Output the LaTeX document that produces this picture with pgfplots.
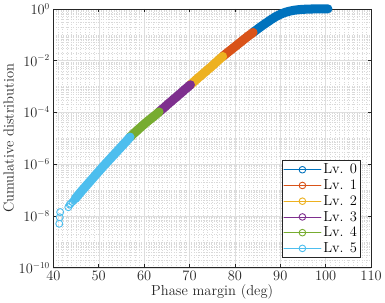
\documentclass[border=0pt]{standalone}
\usepackage{pgfplots}
\pgfplotsset{compat=1.18}
\definecolor{c0}{rgb}{0,0.447,0.741}
\definecolor{c1}{rgb}{0.85,0.325,0.098}
\definecolor{c2}{rgb}{0.929,0.694,0.125}
\definecolor{c3}{rgb}{0.494,0.184,0.556}
\definecolor{c4}{rgb}{0.466,0.674,0.188}
\definecolor{c5}{rgb}{0.301,0.745,0.933}
\definecolor{axgray}{rgb}{0.15,0.15,0.15}
\begin{document}
\begin{tikzpicture}
\begin{axis}[
  scale only axis,
  width=316bp, height=257.5bp,
  ymode=log,
  clip=false,
  xmin=40, xmax=110, ymin=1e-10, ymax=1,
  xtick={40,50,...,110},
  ytick={1e-10,1e-8,1e-6,1e-4,1e-2,1},
  minor x tick num=9,
  minor ytick={2e-10,3e-10,4e-10,5e-10,6e-10,7e-10,8e-10,9e-10,1e-9,2e-9,3e-9,4e-9,5e-9,6e-9,7e-9,8e-9,9e-9,
               2e-8,3e-8,4e-8,5e-8,6e-8,7e-8,8e-8,9e-8,1e-7,2e-7,3e-7,4e-7,5e-7,6e-7,7e-7,8e-7,9e-7,
               2e-6,3e-6,4e-6,5e-6,6e-6,7e-6,8e-6,9e-6,1e-5,2e-5,3e-5,4e-5,5e-5,6e-5,7e-5,8e-5,9e-5,
               2e-4,3e-4,4e-4,5e-4,6e-4,7e-4,8e-4,9e-4,1e-3,2e-3,3e-3,4e-3,5e-3,6e-3,7e-3,8e-3,9e-3,
               2e-2,3e-2,4e-2,5e-2,6e-2,7e-2,8e-2,9e-2,1e-1,2e-1,3e-1,4e-1,5e-1,6e-1,7e-1,8e-1,9e-1},
  grid=both,
  major grid style={line width=0.5bp, color=black!13},
  minor grid style={line width=0.5bp, color=black!15, dotted},
  tick align=inside,
  major tick length=3.5bp,
  minor tick length=0pt,
  axis line style={line width=0.6bp, color=axgray},
  every tick/.style={line width=0.6bp, color=axgray},
  font=\fontsize{14.5}{17}\selectfont,
  tick label style={font=\fontsize{13.5}{16}\selectfont, color=axgray},
  xlabel={Phase margin (deg)},
  ylabel={Cumulative distribution},
  label style={color=axgray},
  xlabel style={yshift=3bp},
  ylabel style={yshift=-2bp},
  legend cell align=left,
  legend style={at={(0.968,0.038)}, anchor=south east, draw=axgray, line width=0.6bp,
     fill=white, font=\fontsize{14.5}{17}\selectfont, inner sep=1.5bp, row sep=0.3bp},
  legend image code/.code={
     \draw[line width=0.6bp] (0bp,0bp) -- (37bp,0bp);
     \draw[line width=0.9bp, fill=none] (18.5bp,0bp) circle (3.3bp);
  },
  every axis plot/.append style={line width=9bp, line cap=round, line join=round},
]
\addplot[color=c0, no markers] coordinates {
 (84,0.123) (85,0.166) (86,0.224) (87,0.295) (88,0.389) (89,0.501) (90,0.617)
 (91,0.724) (92,0.813) (93,0.881) (94,0.929) (95,0.959) (96,0.977) (97,0.989)
 (98,0.995) (99,0.998) (100.5,1.0)
};
\addlegendentry{Lv. 0}
\addplot[color=c1, no markers] coordinates {
 (77.3,1.45e-2) (78,1.82e-2) (78.5,2.14e-2) (79,2.51e-2) (79.5,2.95e-2) (80,3.47e-2)
 (80.5,4.07e-2) (81,4.79e-2) (81.5,5.62e-2) (82,6.61e-2) (82.5,7.76e-2) (83,9.12e-2)
 (83.5,0.105) (84,0.123)
};
\addlegendentry{Lv. 1}
\addplot[color=c2, no markers] coordinates {
 (70.2,1.17e-3) (71,1.55e-3) (71.5,1.86e-3) (72,2.24e-3) (72.5,2.63e-3) (73,3.16e-3)
 (73.5,3.72e-3) (74,4.47e-3) (74.5,5.25e-3) (75,6.31e-3) (75.5,7.59e-3) (76,9.12e-3)
 (76.5,1.10e-2) (77.3,1.45e-2)
};
\addlegendentry{Lv. 2}
\addplot[color=c3, no markers] coordinates {
 (63.3,1.05e-4) (64,1.35e-4) (64.5,1.58e-4) (65,1.91e-4) (65.5,2.29e-4) (66,2.69e-4)
 (66.5,3.24e-4) (67,3.80e-4) (67.5,4.57e-4) (68,5.37e-4) (68.5,6.46e-4) (69,7.76e-4)
 (69.5,9.12e-4) (70.2,1.17e-3)
};
\addlegendentry{Lv. 3}
\addplot[color=c4, no markers] coordinates {
 (56.9,1.12e-5) (57.5,1.41e-5) (58,1.70e-5) (58.5,2.04e-5) (59,2.45e-5) (59.5,2.95e-5)
 (60,3.47e-5) (60.5,4.17e-5) (61,4.90e-5) (61.5,5.75e-5) (62,6.76e-5) (62.5,7.94e-5)
 (63.3,1.05e-4)
};
\addlegendentry{Lv. 4}
\addplot[color=c5, no markers] coordinates {
 (44.8,4.6e-8) (45.2,5.62e-8) (46,8.32e-8) (47,1.32e-7) (48,2.09e-7) (49,3.31e-7) (50,5.25e-7)
 (51,8.32e-7) (52,1.29e-6) (53,2.00e-6) (54,3.09e-6) (55,4.79e-6) (56,7.41e-6)
 (56.9,1.12e-5)
};
\addlegendentry{Lv. 5}
\addplot[color=c5, only marks, mark=o, mark size=3.5bp, mark options={line width=0.9bp}, forget plot] coordinates {
 (41.3,5.01e-9) (41.4,8.91e-9) (41.5,1.41e-8) (43.3,2.19e-8) (43.6,2.75e-8) (43.8,2.95e-8)
 (44.2,3.5e-8) (44.5,3.98e-8)
};
\end{axis}
\end{tikzpicture}
\end{document}
